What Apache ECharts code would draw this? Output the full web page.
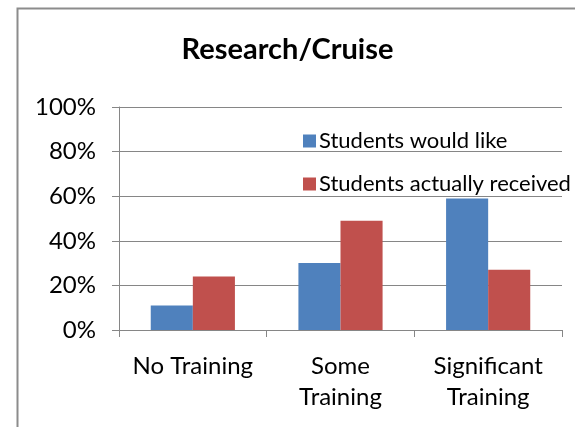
<!DOCTYPE html>
<html>
<head>
<meta charset="utf-8">
<script src="https://cdn.jsdelivr.net/npm/echarts@6/dist/echarts.min.js"></script>
<style>
  html, body { margin: 0; padding: 0; background: #fff; }
  #chart { width: 575px; height: 427px; }
</style>
</head>
<body>
<div id="chart"></div>
<script>
const categories = ['No Training', 'Some\nTraining', 'Significant\nTraining']
const wouldLike = [11, 30, 59]
const actuallyReceived = [24, 49, 27]
const seriesNames = ['Students would like', 'Students actually received']

const font = 'Lato'

const chart = echarts.init(document.getElementById('chart'))
chart.setOption({
  animation: false,
  color: ['#4F81BD', '#C0504D'],
  textStyle: { fontFamily: font },
  graphic: [
    {
      // frame of the chart area
      type: 'rect',
      shape: { x: 17.5, y: 8.5, width: 700, height: 600 },
      style: { fill: 'none', stroke: '#8c8c8c', lineWidth: 2 }
    }
  ],
  title: {
    text: 'Research/Cruise',
    left: 'center',
    top: 30,
    textStyle: { fontFamily: font, fontSize: 29, fontWeight: 'bold', color: '#000' }
  },
  legend: {
    orient: 'vertical',
    left: 298,
    top: 125,
    itemGap: 21,
    itemWidth: 13,
    itemHeight: 13,
    icon: 'rect',
    textStyle: { fontFamily: font, fontSize: 22, color: '#000', padding: [0, 0, 0, -2] },
    data: seriesNames
  },
  grid: {
    left: 119,
    right: 13,
    top: 107,
    bottom: 97
  },
  xAxis: {
    type: 'category',
    data: categories,
    axisLine: { lineStyle: { color: '#868686', width: 1 } },
    axisTick: { show: true, length: 7, lineStyle: { color: '#868686' } },
    axisLabel: {
      interval: 0,
      fontFamily: font,
      fontSize: 24,
      color: '#000',
      margin: 21,
      lineHeight: 31
    }
  },
  yAxis: {
    type: 'value',
    min: 0,
    max: 100,
    interval: 20,
    axisLine: { show: true, lineStyle: { color: '#868686' } },
    axisTick: { show: true, length: 7, lineStyle: { color: '#868686' } },
    splitLine: { lineStyle: { color: '#868686', width: 1 } },
    axisLabel: {
      formatter: '{value}%',
      fontFamily: font,
      fontSize: 24,
      color: '#000',
      margin: 23
    }
  },
  series: [
    {
      name: seriesNames[0],
      type: 'bar',
      data: wouldLike,
      barGap: '0%',
      barCategoryGap: '43%'
    },
    {
      name: seriesNames[1],
      type: 'bar',
      data: actuallyReceived
    }
  ]
})
</script>
</body>
</html>
